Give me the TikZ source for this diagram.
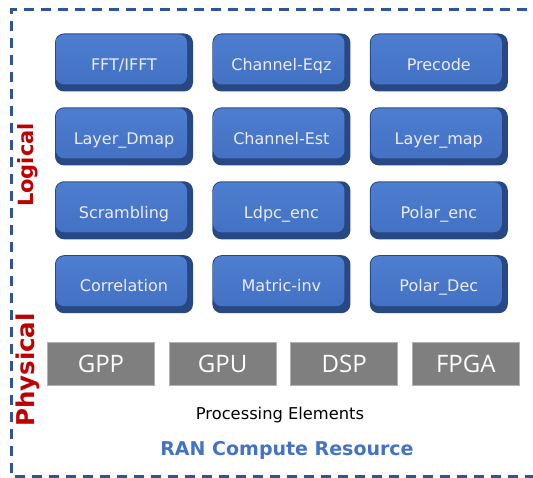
\documentclass[tikz,border=0pt]{standalone}
\usepackage{fontspec}
\setmainfont{DejaVu Sans}
\newfontfamily\peFont{Open Sans}
\usetikzlibrary{positioning}
\definecolor{boxTop}{RGB}{78,126,208}
\definecolor{boxFace}{RGB}{66,112,194}
\definecolor{boxEdge}{RGB}{40,72,132}
\definecolor{frameBlue}{RGB}{47,85,151}
\definecolor{peGray}{RGB}{127,127,127}
\definecolor{layerRed}{RGB}{192,0,0}
\definecolor{ranBlue}{RGB}{68,114,196}
\tikzset{
  fnbox/.style={rounded corners=9pt, minimum width=138pt, minimum height=58pt,
    inner sep=0pt, fill=boxEdge, text=white!92!blue, font=\fontsize{16}{19}\selectfont,
    text height=15.5pt, text depth=0pt,
    path picture={\shade[top color=boxTop, bottom color=boxFace, rounded corners=8pt]
      ([shift={(1pt,-1pt)}]path picture bounding box.north west) rectangle
      ([shift={(-6pt,7pt)}]path picture bounding box.south east);}},
  pebox/.style={minimum width=107pt, minimum height=43pt, inner sep=0pt,
    fill=peGray, draw=gray!60, line width=0.6pt, text=white,
    font=\peFont\fontsize{24}{28}\selectfont},
  sidelabel/.style={rotate=90, text=layerRed, font=\bfseries\fontsize{#1}{24}\selectfont},
}

\begin{document}
\begin{tikzpicture}[x=1pt, y=1pt, node distance=15.5pt and 19pt]
        \useasboundingbox (0,0) rectangle (533,477);

        % outer frame
        \draw [frameBlue, line width=3pt, dash pattern=on 10pt off 7pt]
            (527,467) -- (11,467) -- (11,1) -- (533,1);

        % logical functions
        \node [fnbox] (fft) at (124,414.5) {FFT/IFFT};
        \node [fnbox, right=of fft] (eqz) {Channel-Eqz};
        \node [fnbox, right=of eqz] (precode) {Precode};

        \node [fnbox, below=of fft] (ldmap) {Layer\_Dmap};
        \node [fnbox, right=of ldmap] (est) {Channel-Est};
        \node [fnbox, right=of est] (lmap) {Layer\_map};

        \node [fnbox, below=of ldmap] (scramb) {Scrambling};
        \node [fnbox, right=of scramb] (ldpc) {Ldpc\_enc};
        \node [fnbox, right=of ldpc] (polenc) {Polar\_enc};

        \node [fnbox, below=of scramb] (corr) {Correlation};
        \node [fnbox, right=of corr] (minv) {Matric-inv};
        \node [fnbox, right=of minv] (poldec) {Polar\_Dec};

        % physical processing elements
        \node [pebox] (gpp) at (101,113.5) {GPP};
        \node [pebox, right=14pt of gpp] (gpu) {GPU};
        \node [pebox, right=14pt of gpu] (dsp) {DSP};
        \node [pebox, right=14pt of dsp] (fpga) {FPGA};

        \node [font=\fontsize{16.3}{19}\selectfont] (pelabel) at (280,62) {Processing Elements};
        \node [text=ranBlue, font=\bfseries\fontsize{19}{22}\selectfont] (ranlabel) at (287,27) {RAN Compute Resource};

        \node [sidelabel=21] (logical) at (28,312) {Logical};
        \node [sidelabel=24.5] (physical) at (28,107) {Physical};
    \end{tikzpicture}
\end{document}
